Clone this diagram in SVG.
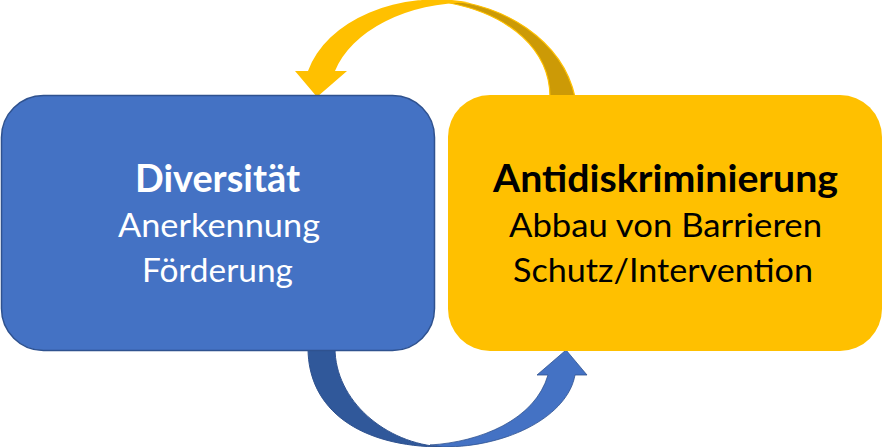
<svg xmlns="http://www.w3.org/2000/svg" width="883" height="447" viewBox="0 0 883 447">
<style>
.t{font-family:Lato,"Open Sans","Liberation Sans",sans-serif;text-anchor:middle}
.b{font-weight:bold;font-size:38px}
.r{font-size:33.5px}
.w{fill:#FFFFFF}
.k{fill:#000000}
</style>
<rect width="883" height="447" fill="#FFFFFF"/>
<g id="connectors">
  <g id="arrow-top">
    <path d="M450,1 C500,4 562,38 575,97 L550,97 C550,50 510,15 450,3 Z" fill="#CC9A06" stroke="#FFC000" stroke-width="1.2"/>
    <path d="M308,71 A133,95 0 0 1 470,2.4 A140,93 0 0 0 335,71 L347,71 L317,97 L295,71 Z" fill="#FFC000"/>
  </g>
  <g id="arrow-bottom">
    <path d="M308,348 C308,410 360,447 443,447 C385,444 335,400 335,348 Z" fill="#30589A" stroke="#2F528F" stroke-width="1"/>
    <path d="M430,445 C480,442 535,420 548,375 L537,375 L566,350 L587,375 L575,375 C568,415 510,447 443,447 Z" fill="#4472C4" stroke="#2F528F" stroke-width="0.8"/>
  </g>
</g>
<g id="node-diversitaet">
  <rect x="1.5" y="95.5" width="433" height="255" rx="42" ry="42" fill="#4472C4" stroke="#2F528F" stroke-width="1.5"/>
  <text class="t b w" x="217.5" y="192" textLength="165" lengthAdjust="spacingAndGlyphs">Diversität</text>
  <text class="t r w" x="219" y="237" textLength="202" lengthAdjust="spacingAndGlyphs">Anerkennung</text>
  <text class="t r w" x="217.5" y="282" textLength="151" lengthAdjust="spacingAndGlyphs">Förderung</text>
</g>
<g id="node-antidiskriminierung">
  <rect x="448" y="95" width="434" height="256" rx="42" ry="42" fill="#FFC000"/>
  <text class="t b k" x="665.5" y="192" textLength="345" lengthAdjust="spacingAndGlyphs">Antidiskriminierung</text>
  <text class="t r k" x="665.5" y="237" textLength="313" lengthAdjust="spacingAndGlyphs">Abbau von Barrieren</text>
  <text class="t r k" x="663" y="282" textLength="300" lengthAdjust="spacingAndGlyphs">Schutz/Intervention</text>
</g>
</svg>
